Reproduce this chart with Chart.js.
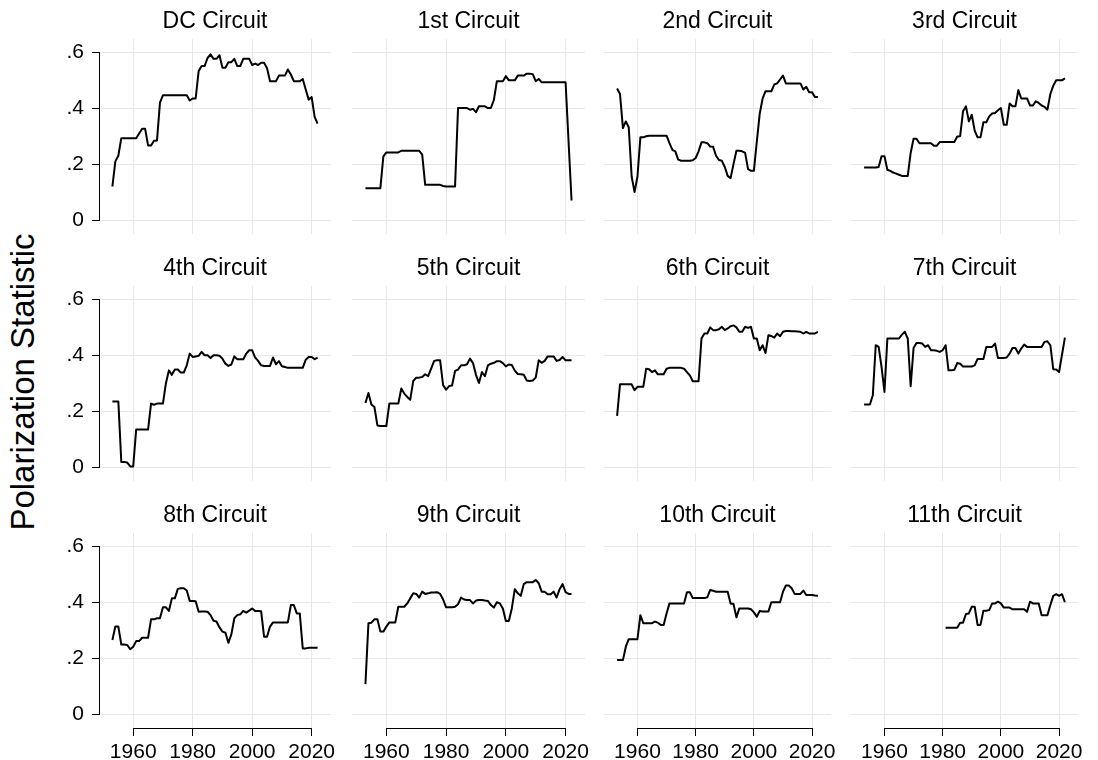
<!DOCTYPE html>
<html>
<head>
<meta charset="utf-8">
<script src="https://cdn.jsdelivr.net/npm/chart.js@4.4.1/dist/chart.umd.min.js"></script>
<style>
  body { margin: 0; background: #fff; }
  #page {
    position: relative;
    width: 1098px;
    height: 760px;
    overflow: hidden;
    font-family: "Liberation Sans", Arial, Helvetica, sans-serif;
  }
  #page canvas { position: absolute; }
  #ylab {
    position: absolute;
    left: 23px;
    top: 382px;
    transform: translate(-50%, -50%) rotate(-90deg);
    font-size: 33px;
    white-space: nowrap;
    color: #000;
  }
</style>
</head>
<body>
<div id="page">
  <div id="ylab">Polarization Statistic</div>
</div>
<script>
// DATA
const years = [
  1953, 1954, 1955, 1956, 1957, 1958, 1959, 1960, 1961, 1962,
  1963, 1964, 1965, 1966, 1967, 1968, 1969, 1970, 1971, 1972,
  1973, 1974, 1975, 1976, 1977, 1978, 1979, 1980, 1981, 1982,
  1983, 1984, 1985, 1986, 1987, 1988, 1989, 1990, 1991, 1992,
  1993, 1994, 1995, 1996, 1997, 1998, 1999, 2000, 2001, 2002,
  2003, 2004, 2005, 2006, 2007, 2008, 2009, 2010, 2011, 2012,
  2013, 2014, 2015, 2016, 2017, 2018, 2019, 2020, 2021, 2022,
];

const circuits = [
  "DC Circuit", "1st Circuit", "2nd Circuit", "3rd Circuit",
  "4th Circuit", "5th Circuit", "6th Circuit", "7th Circuit",
  "8th Circuit", "9th Circuit", "10th Circuit", "11th Circuit",
];

const dcCircuit = [
  0.12, 0.21, 0.23, 0.293, 0.293, 0.293, 0.293, 0.293, 0.293, 0.31,
  0.327, 0.327, 0.267, 0.267, 0.284, 0.285, 0.42, 0.447, 0.447, 0.447,
  0.447, 0.447, 0.447, 0.447, 0.447, 0.447, 0.428, 0.435, 0.435, 0.533,
  0.551, 0.551, 0.58, 0.593, 0.577, 0.577, 0.59, 0.545, 0.545, 0.565,
  0.565, 0.577, 0.551, 0.551, 0.577, 0.577, 0.577, 0.555, 0.56, 0.555,
  0.563, 0.563, 0.543, 0.497, 0.497, 0.497, 0.517, 0.517, 0.517, 0.539,
  0.521, 0.497, 0.497, 0.497, 0.505, 0.467, 0.431, 0.44, 0.369, 0.345,
];
const circuit1 = [
  0.114, 0.114, 0.114, 0.114, 0.114, 0.114, 0.228, 0.242, 0.242, 0.242,
  0.242, 0.242, 0.248, 0.248, 0.248, 0.248, 0.248, 0.248, 0.248, 0.234,
  0.126, 0.126, 0.126, 0.126, 0.126, 0.126, 0.122, 0.12, 0.12, 0.12,
  0.12, 0.401, 0.401, 0.401, 0.401, 0.395, 0.398, 0.386, 0.407, 0.407,
  0.407, 0.401, 0.401, 0.43, 0.497, 0.497, 0.497, 0.515, 0.5, 0.5,
  0.5, 0.517, 0.517, 0.517, 0.524, 0.524, 0.522, 0.497, 0.505, 0.493,
  0.493, 0.493, 0.493, 0.493, 0.493, 0.493, 0.493, 0.493, 0.28, 0.07,
];
const circuit2 = [
  0.471, 0.451, 0.329, 0.353, 0.332, 0.156, 0.10, 0.156, 0.296, 0.296,
  0.3, 0.302, 0.302, 0.302, 0.302, 0.302, 0.302, 0.302, 0.275, 0.251,
  0.246, 0.216, 0.212, 0.212, 0.212, 0.212, 0.214, 0.222, 0.246, 0.278,
  0.278, 0.275, 0.263, 0.262, 0.23, 0.215, 0.212, 0.19, 0.158, 0.15,
  0.2, 0.248, 0.248, 0.246, 0.24, 0.182, 0.176, 0.176, 0.28, 0.38,
  0.435, 0.461, 0.461, 0.461, 0.485, 0.489, 0.503, 0.517, 0.489, 0.489,
  0.489, 0.489, 0.489, 0.489, 0.467, 0.477, 0.457, 0.457, 0.44, 0.44,
];
const circuit3 = [
  0.188, 0.188, 0.188, 0.188, 0.188, 0.19, 0.228, 0.228, 0.18, 0.176,
  0.17, 0.166, 0.162, 0.158, 0.158, 0.158, 0.24, 0.291, 0.291, 0.275,
  0.275, 0.275, 0.275, 0.275, 0.266, 0.266, 0.279, 0.279, 0.279, 0.279,
  0.279, 0.279, 0.299, 0.3, 0.389, 0.407, 0.353, 0.377, 0.32, 0.296,
  0.296, 0.35, 0.35, 0.371, 0.381, 0.383, 0.393, 0.401, 0.341, 0.341,
  0.417, 0.407, 0.407, 0.465, 0.435, 0.435, 0.435, 0.41, 0.41, 0.425,
  0.419, 0.41, 0.405, 0.395, 0.451, 0.481, 0.5, 0.5, 0.5, 0.507,
];
const circuit4 = [
  0.235, 0.235, 0.235, 0.018, 0.018, 0.016, 0.002, 0.002, 0.134, 0.134,
  0.134, 0.134, 0.134, 0.227, 0.223, 0.227, 0.227, 0.227, 0.3, 0.346,
  0.33, 0.349, 0.349, 0.338, 0.338, 0.364, 0.406, 0.394, 0.396, 0.398,
  0.412, 0.4, 0.4, 0.39, 0.4, 0.4, 0.398, 0.388, 0.37, 0.362,
  0.367, 0.396, 0.386, 0.386, 0.386, 0.406, 0.418, 0.418, 0.392, 0.38,
  0.364, 0.362, 0.362, 0.362, 0.392, 0.368, 0.379, 0.361, 0.358, 0.355,
  0.355, 0.355, 0.355, 0.355, 0.355, 0.384, 0.394, 0.394, 0.386, 0.392,
];
const circuit5 = [
  0.229, 0.265, 0.224, 0.215, 0.149, 0.147, 0.147, 0.147, 0.227, 0.227,
  0.227, 0.227, 0.281, 0.263, 0.251, 0.241, 0.308, 0.32, 0.32, 0.322,
  0.332, 0.325, 0.352, 0.38, 0.382, 0.382, 0.293, 0.277, 0.29, 0.292,
  0.344, 0.349, 0.364, 0.364, 0.368, 0.388, 0.372, 0.33, 0.301, 0.34,
  0.325, 0.364, 0.37, 0.373, 0.379, 0.379, 0.372, 0.36, 0.367, 0.365,
  0.345, 0.333, 0.332, 0.33, 0.31, 0.308, 0.31, 0.32, 0.382, 0.373,
  0.38, 0.396, 0.396, 0.396, 0.38, 0.383, 0.394, 0.382, 0.382, 0.382,
];
const circuit6 = [
  0.183, 0.296, 0.296, 0.296, 0.296, 0.296, 0.275, 0.287, 0.287, 0.287,
  0.352, 0.35, 0.34, 0.346, 0.332, 0.332, 0.332, 0.352, 0.355, 0.355,
  0.355, 0.355, 0.355, 0.352, 0.34, 0.328, 0.307, 0.307, 0.307, 0.46,
  0.478, 0.478, 0.5, 0.49, 0.49, 0.493, 0.502, 0.49, 0.496, 0.504,
  0.507, 0.5, 0.484, 0.484, 0.502, 0.498, 0.502, 0.46, 0.46, 0.418,
  0.436, 0.408, 0.472, 0.469, 0.463, 0.478, 0.468, 0.484, 0.487, 0.487,
  0.486, 0.486, 0.485, 0.484, 0.478, 0.484, 0.478, 0.478, 0.478, 0.484,
];
const circuit7 = [
  0.224, 0.224, 0.224, 0.257, 0.436, 0.43, 0.358, 0.269, 0.46, 0.46,
  0.46, 0.46, 0.46, 0.474, 0.484, 0.46, 0.289, 0.426, 0.444, 0.444,
  0.442, 0.43, 0.436, 0.418, 0.418, 0.416, 0.412, 0.418, 0.436, 0.346,
  0.346, 0.348, 0.372, 0.37, 0.36, 0.36, 0.36, 0.36, 0.364, 0.387,
  0.387, 0.387, 0.43, 0.43, 0.43, 0.442, 0.39, 0.39, 0.39, 0.392,
  0.406, 0.426, 0.426, 0.406, 0.424, 0.438, 0.43, 0.43, 0.43, 0.43,
  0.43, 0.43, 0.448, 0.45, 0.436, 0.35, 0.349, 0.34, 0.402, 0.463,
];
const circuit8 = [
  0.265, 0.313, 0.313, 0.249, 0.249, 0.247, 0.232, 0.241, 0.261, 0.261,
  0.273, 0.273, 0.273, 0.339, 0.339, 0.343, 0.343, 0.382, 0.382, 0.369,
  0.414, 0.414, 0.448, 0.45, 0.45, 0.442, 0.405, 0.405, 0.404, 0.366,
  0.367, 0.367, 0.366, 0.354, 0.334, 0.331, 0.31, 0.295, 0.291, 0.255,
  0.285, 0.343, 0.354, 0.357, 0.369, 0.363, 0.37, 0.378, 0.369, 0.369,
  0.368, 0.277, 0.277, 0.313, 0.328, 0.328, 0.328, 0.328, 0.328, 0.328,
  0.39, 0.39, 0.36, 0.36, 0.235, 0.235, 0.237, 0.237, 0.237, 0.237,
];
const circuit9 = [
  0.107, 0.325, 0.327, 0.339, 0.339, 0.295, 0.295, 0.313, 0.328, 0.328,
  0.328, 0.384, 0.384, 0.384, 0.396, 0.414, 0.432, 0.43, 0.417, 0.438,
  0.43, 0.432, 0.435, 0.435, 0.436, 0.43, 0.41, 0.382, 0.382, 0.382,
  0.384, 0.393, 0.417, 0.41, 0.408, 0.408, 0.396, 0.406, 0.408, 0.408,
  0.406, 0.405, 0.39, 0.381, 0.4, 0.396, 0.378, 0.333, 0.333, 0.378,
  0.447, 0.432, 0.423, 0.465, 0.472, 0.472, 0.472, 0.48, 0.468, 0.438,
  0.438, 0.429, 0.429, 0.438, 0.417, 0.447, 0.465, 0.436, 0.43, 0.43,
];
const circuit10 = [
  0.193, 0.193, 0.193, 0.241, 0.268, 0.268, 0.268, 0.268, 0.354, 0.325,
  0.325, 0.325, 0.325, 0.331, 0.327, 0.319, 0.319, 0.36, 0.396, 0.396,
  0.396, 0.396, 0.396, 0.396, 0.436, 0.436, 0.415, 0.415, 0.415, 0.415,
  0.415, 0.418, 0.444, 0.441, 0.438, 0.438, 0.438, 0.438, 0.438, 0.396,
  0.394, 0.346, 0.378, 0.378, 0.378, 0.378, 0.375, 0.364, 0.348, 0.369,
  0.367, 0.367, 0.367, 0.4, 0.4, 0.4, 0.4, 0.438, 0.46, 0.46,
  0.45, 0.43, 0.43, 0.43, 0.442, 0.426, 0.426, 0.426, 0.424, 0.423,
];
const circuit11 = [
  null, null, null, null, null, null, null, null, null, null,
  null, null, null, null, null, null, null, null, null, null,
  null, null, null, null, null, null, null, null, 0.309, 0.309,
  0.309, 0.309, 0.309, 0.327, 0.327, 0.358, 0.36, 0.384, 0.384, 0.319,
  0.319, 0.37, 0.37, 0.372, 0.396, 0.396, 0.402, 0.396, 0.381, 0.381,
  0.381, 0.375, 0.375, 0.375, 0.375, 0.375, 0.366, 0.402, 0.396, 0.396,
  0.396, 0.354, 0.354, 0.354, 0.39, 0.423, 0.429, 0.423, 0.429, 0.4,
];

const series = [
  dcCircuit, circuit1, circuit2, circuit3,
  circuit4, circuit5, circuit6, circuit7,
  circuit8, circuit9, circuit10, circuit11,
];

const yTicks = [0, 0.2, 0.4, 0.6];
const yTickLabels = ["0", ".2", ".4", ".6"];
const xTicks = [1960, 1980, 2000, 2020];
const xTickLabels = ["1960", "1980", "2000", "2020"];

// LAYOUT (plot areas, px)
const colLeft = [99, 352, 604, 851];
const colWidth = [232, 233, 227, 227];
const rowTop = [39, 286, 533];
const rowHeight = [195, 195, 195];
const TITLE_H = 40;
const Y_AXIS_W = 60;
const PAD_R = 12;

Chart.defaults.font.family = '"Liberation Sans", Arial, Helvetica, sans-serif';
Chart.defaults.color = "#000";

// axis lines only between first and last tick
const stataAxes = {
  id: "stataAxes",
  afterDraw(chart, args, opts) {
    const { ctx, chartArea, scales: { x, y } } = chart;
    const align = (v) => Math.round(v - 0.5) + 0.5;
    ctx.save();
    ctx.strokeStyle = "#000";
    ctx.lineWidth = 1;
    ctx.beginPath();
    if (opts.left) {
      const px = align(chartArea.left);
      ctx.moveTo(px, align(y.getPixelForValue(yTicks[0])) + 0.5);
      ctx.lineTo(px, align(y.getPixelForValue(yTicks[yTicks.length - 1])) - 0.5);
    }
    if (opts.bottom) {
      const py = align(chartArea.bottom);
      ctx.moveTo(align(x.getPixelForValue(xTicks[0])) - 0.5, py);
      ctx.lineTo(align(x.getPixelForValue(xTicks[xTicks.length - 1])) + 0.5, py);
    }
    ctx.stroke();
    ctx.restore();
  },
};

const page = document.getElementById("page");

circuits.forEach((name, i) => {
  const r = Math.floor(i / 4);
  const c = i % 4;
  const isLeft = c === 0;
  const isBottom = r === 2;
  const yW = isLeft ? Y_AXIS_W : 0;
  const xH = isBottom ? 34 : 0;
  const padB = isBottom ? 0 : 26;
  const w = yW + colWidth[c] + PAD_R;
  const h = TITLE_H + rowHeight[r] + xH + padB;

  const canvas = document.createElement("canvas");
  canvas.width = w;
  canvas.height = h;
  canvas.style.width = w + "px";
  canvas.style.height = h + "px";
  canvas.style.left = colLeft[c] - yW + "px";
  canvas.style.top = rowTop[r] - TITLE_H + "px";
  page.appendChild(canvas);

  new Chart(canvas, {
    type: "line",
    data: {
      datasets: [
        {
          data: years.map((yr, k) => ({ x: yr, y: series[i][k] })),
          borderColor: "#000",
          borderWidth: 2,
          borderJoinStyle: "round",
          pointRadius: 0,
          tension: 0,
          fill: false,
          spanGaps: false,
        },
      ],
    },
    options: {
      responsive: false,
      animation: false,
      events: [],
      layout: { padding: { top: 0, left: 0, right: PAD_R, bottom: padB } },
      plugins: {
        legend: { display: false },
        tooltip: { enabled: false },
        title: {
          display: true,
          text: name,
          fullSize: false,
          color: "#000",
          font: { size: 23, weight: "normal" },
          padding: { top: 9, bottom: 3.4 },
        },
        stataAxes: { left: isLeft, bottom: isBottom },
      },
      scales: {
        x: {
          type: "linear",
          min: 1948.5,
          max: 2026.5,
          afterBuildTicks: (s) => {
            s.ticks = xTicks.map((v) => ({ value: v }));
          },
          afterFit: (s) => {
            s.height = xH;
          },
          border: { display: false },
          grid: {
            color: "#e8e8e8",
            lineWidth: 1,
            drawTicks: isBottom,
            tickLength: 8,
            tickColor: "#000",
          },
          ticks: {
            display: isBottom,
            padding: 4,
            autoSkip: false,
            maxRotation: 0,
            color: "#000",
            font: { size: 21 },
            callback: (v, k) => xTickLabels[k],
          },
        },
        y: {
          type: "linear",
          min: -0.05,
          max: 0.648,
          afterBuildTicks: (s) => {
            s.ticks = yTicks.map((v) => ({ value: v }));
          },
          afterFit: (s) => {
            s.width = yW;
          },
          border: { display: false },
          grid: {
            color: "#e8e8e8",
            lineWidth: 1,
            drawTicks: isLeft,
            tickLength: 7,
            tickColor: "#000",
          },
          ticks: {
            display: isLeft,
            padding: 8,
            color: "#000",
            font: { size: 21 },
            callback: (v, k) => yTickLabels[k],
          },
        },
      },
    },
    plugins: [stataAxes],
  });
});
</script>
</body>
</html>
